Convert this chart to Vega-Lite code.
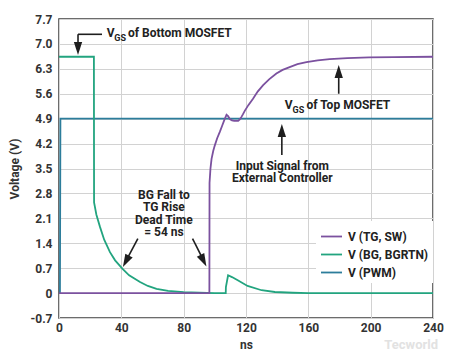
{
  "$schema": "https://vega.github.io/schema/vega-lite/v6.json",
  "width": 374,
  "height": 299,
  "autosize": {"type": "none"},
  "padding": {"left": 59, "top": 19, "right": 23, "bottom": 37},
  "background": "white",
  "config": {
    "font": "Roboto",
    "view": {"stroke": "#3c3c3c", "strokeWidth": 1.5},
    "axis": {
      "labelFont": "Roboto", "labelFontWeight": "bold", "labelFontSize": 12, "labelColor": "#333333",
      "titleFont": "Roboto", "titleFontWeight": "bold", "titleFontSize": 12, "titleColor": "#333333",
      "gridColor": "#d2d2d2", "gridWidth": 1, "domain": false, "ticks": false, "labelOverlap": false
    },
    "legend": {
      "orient": "none", "legendX": 257, "legendY": 202, "fillColor": "white", "padding": 4,
      "labelFont": "Roboto", "labelFontSize": 12, "labelFontWeight": "bold", "labelColor": "#222222",
      "symbolType": "stroke", "symbolSize": 441, "symbolStrokeWidth": 1.8, "rowPadding": -6.5, "labelOffset": 5
    }
  },
  "layer": [
    {
      "data": {"values": [
        {"series": "V (PWM)", "t": 0, "v": 0},
        {"series": "V (PWM)", "t": 0.6, "v": 0},
        {"series": "V (PWM)", "t": 0.9, "v": 4.9},
        {"series": "V (PWM)", "t": 240, "v": 4.9},
        {"series": "V (BG, BGRTN)", "t": 0, "v": 6.64},
        {"series": "V (BG, BGRTN)", "t": 22.4, "v": 6.64},
        {"series": "V (BG, BGRTN)", "t": 22.5, "v": 2.55},
        {"series": "V (BG, BGRTN)", "t": 24, "v": 2.2},
        {"series": "V (BG, BGRTN)", "t": 26.3, "v": 1.86},
        {"series": "V (BG, BGRTN)", "t": 29, "v": 1.5},
        {"series": "V (BG, BGRTN)", "t": 32.7, "v": 1.15},
        {"series": "V (BG, BGRTN)", "t": 36, "v": 0.92},
        {"series": "V (BG, BGRTN)", "t": 40.8, "v": 0.68},
        {"series": "V (BG, BGRTN)", "t": 45, "v": 0.5},
        {"series": "V (BG, BGRTN)", "t": 52, "v": 0.31},
        {"series": "V (BG, BGRTN)", "t": 57, "v": 0.2},
        {"series": "V (BG, BGRTN)", "t": 62.6, "v": 0.12},
        {"series": "V (BG, BGRTN)", "t": 70, "v": 0.06},
        {"series": "V (BG, BGRTN)", "t": 80, "v": 0.025},
        {"series": "V (BG, BGRTN)", "t": 90, "v": 0.01},
        {"series": "V (BG, BGRTN)", "t": 100, "v": 0},
        {"series": "V (BG, BGRTN)", "t": 107, "v": 0},
        {"series": "V (BG, BGRTN)", "t": 107.1, "v": 0.17},
        {"series": "V (BG, BGRTN)", "t": 108.5, "v": 0.5},
        {"series": "V (BG, BGRTN)", "t": 111, "v": 0.45},
        {"series": "V (BG, BGRTN)", "t": 114.7, "v": 0.36},
        {"series": "V (BG, BGRTN)", "t": 121, "v": 0.2},
        {"series": "V (BG, BGRTN)", "t": 130, "v": 0.08},
        {"series": "V (BG, BGRTN)", "t": 138.5, "v": 0.03},
        {"series": "V (BG, BGRTN)", "t": 150, "v": 0.01},
        {"series": "V (BG, BGRTN)", "t": 160, "v": 0},
        {"series": "V (BG, BGRTN)", "t": 240, "v": 0},
        {"series": "V (TG, SW)", "t": 0, "v": 0},
        {"series": "V (TG, SW)", "t": 96.5, "v": 0},
        {"series": "V (TG, SW)", "t": 96.6, "v": 3.1},
        {"series": "V (TG, SW)", "t": 97.2, "v": 3.5},
        {"series": "V (TG, SW)", "t": 97.9, "v": 3.77},
        {"series": "V (TG, SW)", "t": 99, "v": 4.0},
        {"series": "V (TG, SW)", "t": 100, "v": 4.15},
        {"series": "V (TG, SW)", "t": 101.5, "v": 4.35},
        {"series": "V (TG, SW)", "t": 103.2, "v": 4.53},
        {"series": "V (TG, SW)", "t": 104.7, "v": 4.7},
        {"series": "V (TG, SW)", "t": 106, "v": 4.85},
        {"series": "V (TG, SW)", "t": 107.5, "v": 5.01},
        {"series": "V (TG, SW)", "t": 108.5, "v": 4.97},
        {"series": "V (TG, SW)", "t": 109.6, "v": 4.89},
        {"series": "V (TG, SW)", "t": 111, "v": 4.85},
        {"series": "V (TG, SW)", "t": 112.4, "v": 4.84},
        {"series": "V (TG, SW)", "t": 115, "v": 4.84},
        {"series": "V (TG, SW)", "t": 116, "v": 4.88},
        {"series": "V (TG, SW)", "t": 117.1, "v": 4.95},
        {"series": "V (TG, SW)", "t": 118, "v": 5.02},
        {"series": "V (TG, SW)", "t": 119.2, "v": 5.12},
        {"series": "V (TG, SW)", "t": 121.5, "v": 5.28},
        {"series": "V (TG, SW)", "t": 124.5, "v": 5.46},
        {"series": "V (TG, SW)", "t": 127.5, "v": 5.66},
        {"series": "V (TG, SW)", "t": 131, "v": 5.84},
        {"series": "V (TG, SW)", "t": 135, "v": 6.01},
        {"series": "V (TG, SW)", "t": 139.5, "v": 6.17},
        {"series": "V (TG, SW)", "t": 143.5, "v": 6.27},
        {"series": "V (TG, SW)", "t": 148, "v": 6.35},
        {"series": "V (TG, SW)", "t": 153, "v": 6.43},
        {"series": "V (TG, SW)", "t": 158.8, "v": 6.49},
        {"series": "V (TG, SW)", "t": 166, "v": 6.54},
        {"series": "V (TG, SW)", "t": 173.7, "v": 6.57},
        {"series": "V (TG, SW)", "t": 185, "v": 6.6},
        {"series": "V (TG, SW)", "t": 199, "v": 6.62},
        {"series": "V (TG, SW)", "t": 215, "v": 6.63},
        {"series": "V (TG, SW)", "t": 240, "v": 6.64}
      ]},
      "mark": {"type": "line", "strokeWidth": 1.8, "clip": true},
      "encoding": {
        "x": {"field": "t", "type": "quantitative", "scale": {"domain": [0, 240], "nice": false, "zero": false},
              "axis": {"title": "ns", "values": [0, 40, 80, 120, 160, 200, 240], "tickCount": 20, "labelPadding": 4, "titlePadding": 6, "labelFlush": false}},
        "y": {"field": "v", "type": "quantitative", "scale": {"domain": [-0.7, 7.7], "nice": false, "zero": false},
              "axis": {"title": "Voltage (V)", "values": [-0.7, 0, 0.7, 1.4, 2.1, 2.8, 3.5, 4.2, 4.9, 5.6, 6.3, 7.0, 7.7], "tickCount": 20,
                       "labelExpr": "datum.value === 0 ? '0' : replace(format(datum.value, '.1f'), '\u2212', '-')",
                       "labelPadding": 7, "titlePadding": 9, "labelFlush": false}},
        "color": {"field": "series", "type": "nominal",
                  "scale": {"domain": ["V (TG, SW)", "V (BG, BGRTN)", "V (PWM)"], "range": ["#7b519f", "#22a47f", "#2c7d9b"]},
                  "legend": {"title": null}}
      }
    },
    {
      "data": {"values": [
        {"t": 143.3, "v": 3.47, "txt": ["Input Signal from", "External Controller"]},
        {"t": 67.3, "v": 2.64, "txt": ["BG Fall to", "TG Rise", "Dead Time", "= 54 ns"]}
      ]},
      "mark": {"type": "text", "align": "center", "baseline": "alphabetic", "lineHeight": 12.2, "fontSize": 12, "fontWeight": "bold", "font": "Roboto", "color": "#222222"},
      "encoding": {"x": {"field": "t", "type": "quantitative"}, "y": {"field": "v", "type": "quantitative"}, "text": {"field": "txt"}}
    },
    {
      "data": {"values": [
        {"t": 30.6, "v": 7.2, "txt": "V"},
        {"t": 44.3, "v": 7.2, "txt": "of Bottom MOSFET"},
        {"t": 144.9, "v": 5.18, "txt": "V"},
        {"t": 158.8, "v": 5.18, "txt": "of Top MOSFET"}
      ]},
      "mark": {"type": "text", "align": "left", "baseline": "alphabetic", "fontSize": 12, "fontWeight": "bold", "font": "Roboto", "color": "#222222"},
      "encoding": {"x": {"field": "t", "type": "quantitative"}, "y": {"field": "v", "type": "quantitative"}, "text": {"field": "txt"}}
    },
    {
      "data": {"values": [
        {"t": 35.5, "v": 7.09, "txt": "GS"},
        {"t": 149.9, "v": 5.07, "txt": "GS"}
      ]},
      "mark": {"type": "text", "align": "left", "baseline": "alphabetic", "fontSize": 9, "fontWeight": "bold", "font": "Roboto", "color": "#222222"},
      "encoding": {"x": {"field": "t", "type": "quantitative"}, "y": {"field": "v", "type": "quantitative"}, "text": {"field": "txt"}}
    },
    {
      "data": {"values": [
        {"t": 12.2, "v": 7.27, "t2": 27.6, "v2": 7.27},
        {"t": 12.2, "v": 7.27, "t2": 12.2, "v2": 6.95},
        {"t": 179.5, "v": 5.6, "t2": 179.5, "v2": 6.1},
        {"t": 143, "v": 3.88, "t2": 143, "v2": 4.5},
        {"t": 50.6, "v": 1.53, "t2": 42.5, "v2": 0.86},
        {"t": 85.7, "v": 1.53, "t2": 93.3, "v2": 0.87}
      ]},
      "mark": {"type": "rule", "color": "#1e1e1e", "strokeWidth": 1.6},
      "encoding": {"x": {"field": "t", "type": "quantitative"}, "y": {"field": "v", "type": "quantitative"},
                   "x2": {"field": "t2"}, "y2": {"field": "v2"}}
    },
    {
      "data": {"values": [{"t": 179.5, "v": 6.41}, {"t": 143, "v": 4.75}]},
      "mark": {"type": "point", "shape": "M0,0L-0.32,1L0.32,1Z", "size": 676, "filled": true, "color": "#1e1e1e", "opacity": 1, "angle": 0},
      "encoding": {"x": {"field": "t", "type": "quantitative"}, "y": {"field": "v", "type": "quantitative"}}
    },
    {
      "data": {"values": [{"t": 12.2, "v": 6.69}]},
      "mark": {"type": "point", "shape": "M0,0L-0.32,1L0.32,1Z", "size": 676, "filled": true, "color": "#1e1e1e", "opacity": 1, "angle": 180},
      "encoding": {"x": {"field": "t", "type": "quantitative"}, "y": {"field": "v", "type": "quantitative"}}
    },
    {
      "data": {"values": [{"t": 41.0, "v": 0.73}]},
      "mark": {"type": "point", "shape": "M0,0L-0.32,1L0.32,1Z", "size": 676, "filled": true, "color": "#1e1e1e", "opacity": 1, "angle": 208},
      "encoding": {"x": {"field": "t", "type": "quantitative"}, "y": {"field": "v", "type": "quantitative"}}
    },
    {
      "data": {"values": [{"t": 94.6, "v": 0.75}]},
      "mark": {"type": "point", "shape": "M0,0L-0.32,1L0.32,1Z", "size": 676, "filled": true, "color": "#1e1e1e", "opacity": 1, "angle": 153},
      "encoding": {"x": {"field": "t", "type": "quantitative"}, "y": {"field": "v", "type": "quantitative"}}
    },
    {
      "data": {"values": [{"t": 226, "v": -1.47, "txt": "Tecworld"}]},
      "mark": {"type": "text", "align": "center", "baseline": "middle", "fontSize": 13, "fontWeight": "bold", "font": "Roboto", "color": "#e2e2e2"},
      "encoding": {"x": {"field": "t", "type": "quantitative"}, "y": {"field": "v", "type": "quantitative"}, "text": {"field": "txt"}}
    }
  ]
}
